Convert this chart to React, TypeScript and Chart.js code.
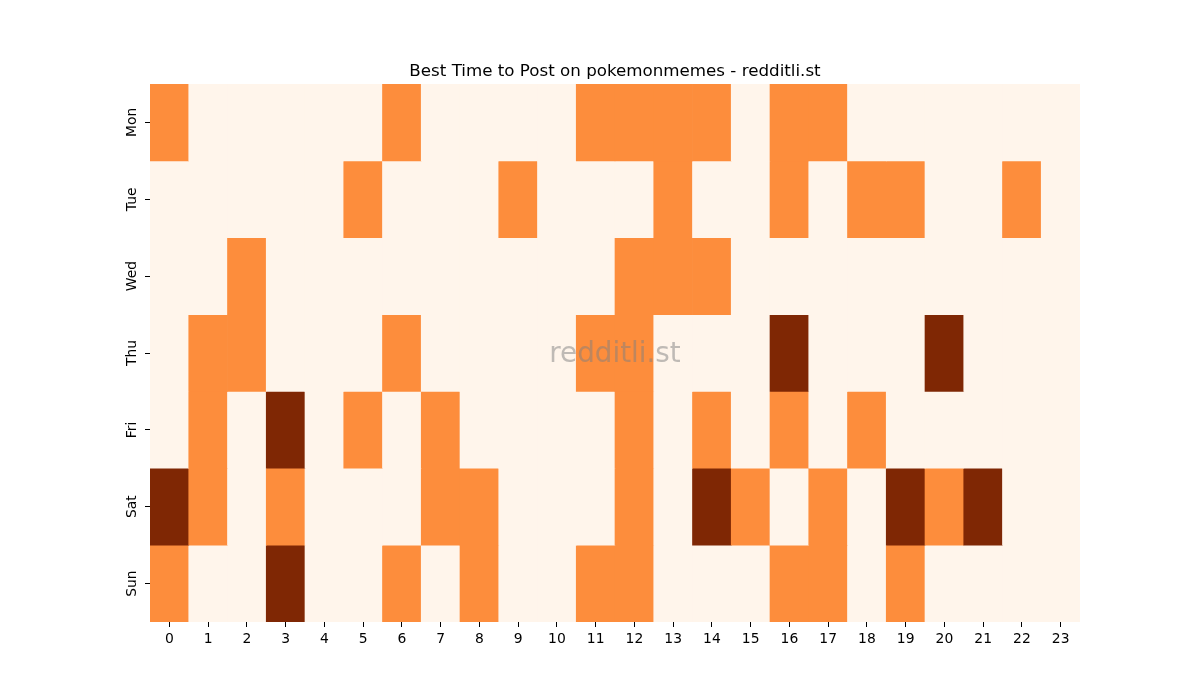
import React, { useEffect, useRef } from "react";
import { Chart, registerables } from "chart.js";

Chart.register(...registerables);

const HOURS = Array.from({ length: 24 }, (_, i) => String(i));
const DAYS = ["Mon", "Tue", "Wed", "Thu", "Fri", "Sat", "Sun"];

const MON = [1, 0, 0, 0, 0, 0, 1, 0, 0, 0, 0, 1, 1, 1, 1, 0, 1, 1, 0, 0, 0, 0, 0, 0];
const TUE = [0, 0, 0, 0, 0, 1, 0, 0, 0, 1, 0, 0, 0, 1, 0, 0, 1, 0, 1, 1, 0, 0, 1, 0];
const WED = [0, 0, 1, 0, 0, 0, 0, 0, 0, 0, 0, 0, 1, 1, 1, 0, 0, 0, 0, 0, 0, 0, 0, 0];
const THU = [0, 1, 1, 0, 0, 0, 1, 0, 0, 0, 0, 1, 1, 0, 0, 0, 2, 0, 0, 0, 2, 0, 0, 0];
const FRI = [0, 1, 0, 2, 0, 1, 0, 1, 0, 0, 0, 0, 1, 0, 1, 0, 1, 0, 1, 0, 0, 0, 0, 0];
const SAT = [2, 1, 0, 1, 0, 0, 0, 1, 1, 0, 0, 0, 1, 0, 2, 1, 0, 1, 0, 2, 1, 2, 0, 0];
const SUN = [1, 0, 0, 2, 0, 0, 1, 0, 1, 0, 0, 1, 1, 0, 0, 0, 1, 1, 0, 1, 0, 0, 0, 0];

const ROWS = [MON, TUE, WED, THU, FRI, SAT, SUN];
const LEVEL_COLORS = ["#fff5eb", "#fd8d3c", "#7f2704"];

const TITLE = "Best Time to Post on pokemonmemes - redditli.st";
const WATERMARK = "redditli.st";
const FONT = "DejaVu Sans";

export default function App() {
  const ref = useRef<HTMLCanvasElement>(null);

  useEffect(() => {
    if (!ref.current) return;

    const extrasPlugin = {
      id: "extras",
      afterDatasetsDraw(chart: any) {
        const { ctx, chartArea } = chart;
        ctx.save();
        ctx.font = `27.8px "${FONT}"`;
        ctx.fillStyle = "rgba(128,128,128,0.5)";
        ctx.textAlign = "center";
        ctx.textBaseline = "middle";
        ctx.fillText(
          WATERMARK,
          (chartArea.left + chartArea.right) / 2,
          (chartArea.top + chartArea.bottom) / 2 + 1.5
        );
        ctx.restore();
      },
      afterDraw(chart: any) {
        const { ctx, chartArea } = chart;
        const y = chart.scales.y;
        ctx.save();
        ctx.font = `16.7px "${FONT}"`;
        ctx.fillStyle = "#000";
        ctx.textAlign = "center";
        ctx.textBaseline = "alphabetic";
        ctx.fillText(TITLE, (chartArea.left + chartArea.right) / 2, 75.7);

        ctx.font = `13.9px "${FONT}"`;
        ctx.textBaseline = "middle";
        DAYS.forEach((d, i) => {
          const py = y.getPixelForValue(i + 0.5);
          ctx.save();
          ctx.translate(132.5, py);
          ctx.rotate(-Math.PI / 2);
          ctx.fillText(d, 0, 0);
          ctx.restore();
        });
        ctx.restore();
      },
    };

    const chart = new Chart(ref.current, {
      type: "bar",
      data: {
        labels: HOURS,
        datasets: ROWS.map((row, i) => ({
          label: DAYS[i],
          data: row.map(() => 1),
          backgroundColor: row.map((v) => LEVEL_COLORS[v]),
          borderWidth: 0,
          barPercentage: 1,
          categoryPercentage: 1,
        })),
      },
      options: {
        responsive: false,
        animation: false,
        layout: { padding: { left: 0, right: 120, top: 84, bottom: 0 } },
        plugins: {
          legend: { display: false },
          tooltip: { enabled: false },
          title: { display: false },
        },
        scales: {
          x: {
            type: "category",
            stacked: true,
            offset: true,
            border: { display: false },
            grid: {
              offset: false,
              drawOnChartArea: false,
              drawTicks: true,
              tickLength: 5,
              color: "#000",
              tickColor: "#000",
            },
            ticks: {
              color: "#000",
              font: { family: FONT, size: 13.9 },
              padding: 4,
              maxRotation: 0,
              minRotation: 0,
              autoSkip: false,
            },
            afterFit: (scale: any) => {
              scale.height = 78;
            },
          },
          y: {
            type: "linear",
            stacked: true,
            min: 0,
            max: 7,
            reverse: true,
            border: { display: false },
            afterBuildTicks: (scale: any) => {
              scale.ticks = DAYS.map((_, i) => ({ value: i + 0.5 }));
            },
            grid: {
              drawOnChartArea: false,
              drawTicks: true,
              tickLength: 5,
              color: "#000",
              tickColor: "#000",
            },
            ticks: { display: false },
            afterFit: (scale: any) => {
              scale.width = 150;
            },
          },
        },
      },
      plugins: [extrasPlugin],
    } as any);

    return () => chart.destroy();
  }, []);

  return (
    <div style={{ position: "absolute", left: 0, top: 0, width: 1200, height: 700, background: "#fff" }}>
      <canvas ref={ref} width={1200} height={700} style={{ width: 1200, height: 700 }} />
    </div>
  );
}
